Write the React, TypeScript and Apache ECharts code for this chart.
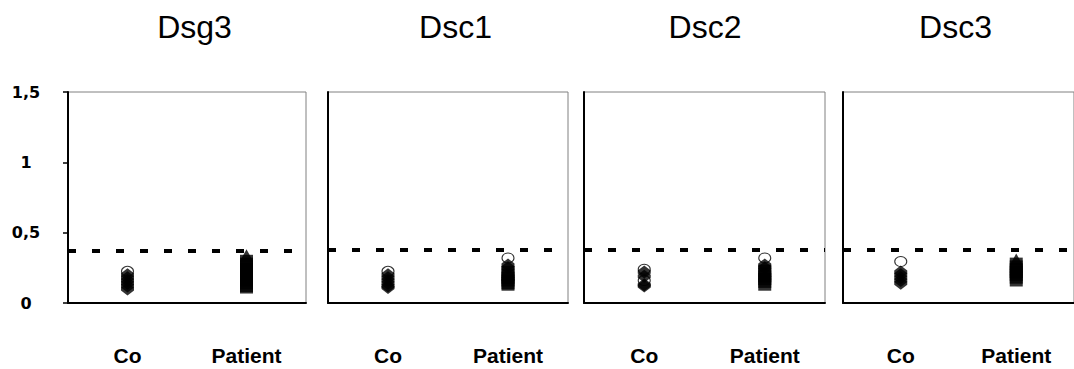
import React, { useEffect, useRef } from "react";
import * as echarts from "echarts";

const titles = ["Dsg3", "Dsc1", "Dsc2", "Dsc3"];
const categories = ["Co", "Patient"];
const thresholds = [0.37, 0.38, 0.38, 0.38];

// Co group
const coOpen = [[0.225], [0.225], [0.24, 0.16], [0.295]];
const coFilled = [
  [0.2, 0.18, 0.16, 0.14, 0.12, 0.1],
  [0.2, 0.18, 0.16, 0.14, 0.12, 0.11],
  [0.22, 0.19, 0.13, 0.12],
  [0.22, 0.2, 0.18, 0.16, 0.14],
];

// Patient group
const patientOpen = [[], [0.32], [0.32], []];
const patientDiamond = [[], [0.27, 0.25], [0.27, 0.25], []];
const patientTriangle = [[0.34], [], [], [0.31]];
const patientSquare = [
  [0.3, 0.28, 0.26, 0.24, 0.22, 0.2, 0.18, 0.16, 0.14, 0.12, 0.11],
  [0.22, 0.2, 0.18, 0.16, 0.14, 0.13],
  [0.23, 0.21, 0.19, 0.17, 0.15, 0.13],
  [0.28, 0.26, 0.24, 0.22, 0.2, 0.18, 0.16],
];

const gridBoxes = [
  { left: 68, width: 238 },
  { left: 328, width: 240 },
  { left: 584, width: 241 },
  { left: 843, width: 240 },
];
const titleCenters = [194.5, 455.5, 705, 955.5];
const HEX = "path://M6.5,0 L13,5 L13,8 L6.5,13 L0,8 L0,5 Z";

export default function App() {
  const ref = useRef<HTMLDivElement>(null);
  useEffect(() => {
    if (!ref.current) return;
    const chart = echarts.init(ref.current, null, { renderer: "svg" });
    const grid: any[] = [];
    const xAxis: any[] = [];
    const yAxis: any[] = [];
    const series: any[] = [];
    const filled = { color: "#000" };
    const open = { color: "#fff", borderColor: "#000", borderWidth: 1 };
    titles.forEach((_, i) => {
      grid.push({
        left: gridBoxes[i].left,
        width: gridBoxes[i].width,
        top: 92,
        height: 211,
        show: true,
        borderColor: "#808080",
        borderWidth: 1,
      });
      xAxis.push({
        type: "category",
        gridIndex: i,
        data: categories,
        axisLine: { show: true, lineStyle: { color: "#000", width: 2 } },
        axisTick: { show: false },
        splitLine: { show: false },
        axisLabel: {
          margin: 42,
          color: "#000",
          fontFamily: "Liberation Sans",
          fontWeight: "bold",
          fontSize: 21,
        },
      });
      yAxis.push({
        type: "value",
        gridIndex: i,
        min: 0,
        max: 1.5,
        interval: 0.5,
        axisLine: { show: true, lineStyle: { color: "#000", width: 2 } },
        axisTick: { show: i === 0, length: 5, lineStyle: { color: "#000", width: 1.5 } },
        splitLine: { show: false },
        axisLabel: {
          show: i === 0,
          margin: 42,
          align: "center",
          color: "#000",
          fontFamily: "DejaVu Sans",
          fontWeight: "bold",
          fontSize: 16,
          formatter: (v: number) => String(v).replace(".", ","),
        },
      });
      const base = { type: "scatter", xAxisIndex: i, yAxisIndex: i, silent: true };
      series.push({
        ...base,
        symbol: "circle",
        symbolSize: [12, 10],
        itemStyle: open,
        data: coOpen[i].map((v) => ["Co", v]).concat(patientOpen[i].map((v) => ["Patient", v])),
        markLine: {
          silent: true,
          symbol: ["none", "none"],
          label: { show: false },
          lineStyle: { color: "#000", width: 4, type: [8, 16] },
          data: [{ yAxis: thresholds[i] }],
        },
      });
      series.push({
        ...base,
        symbol: HEX,
        symbolSize: [13, 13],
        itemStyle: filled,
        data: coFilled[i].map((v) => ["Co", v]).concat(patientDiamond[i].map((v) => ["Patient", v])),
      });
      series.push({
        ...base,
        symbol: "rect",
        symbolSize: [13, 12],
        itemStyle: filled,
        data: patientSquare[i].map((v) => ["Patient", v]),
      });
      series.push({
        ...base,
        symbol: "triangle",
        symbolSize: [13, 12],
        itemStyle: filled,
        data: patientTriangle[i].map((v) => ["Patient", v]),
      });
    });
    chart.setOption({
      animation: false,
      backgroundColor: "#fff",
      grid,
      xAxis,
      yAxis,
      series,
      graphic: titles.map((t, i) => ({
        type: "text",
        x: titleCenters[i],
        y: 27,
        style: {
          text: t,
          fill: "#000",
          font: "normal 32px 'Liberation Sans'",
          textAlign: "center",
          textVerticalAlign: "middle",
        },
      })),
    });
    return () => chart.dispose();
  }, []);
  return (
    <div
      ref={ref}
      style={{ position: "fixed", left: 0, top: 0, width: 1074, height: 369, background: "#fff" }}
    />
  );
}
